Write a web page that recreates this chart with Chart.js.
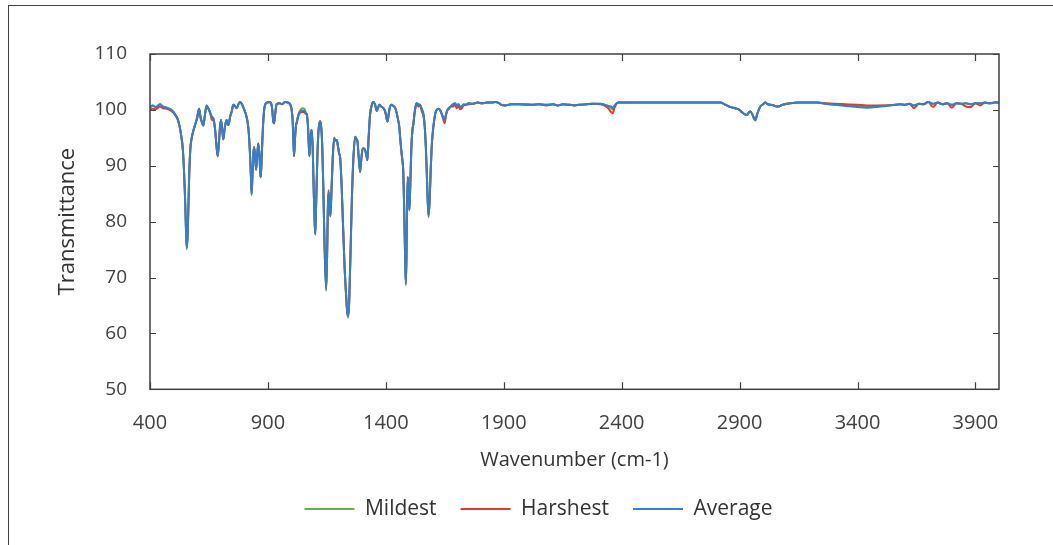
<!DOCTYPE html>
<html>
<head>
<meta charset="utf-8">
<script src="https://cdn.jsdelivr.net/npm/chart.js@4.4.1/dist/chart.umd.min.js"></script>
<style>
  body { margin: 0; background: #fff; }
  #frame { position: absolute; left: 8px; top: 5px; width: 1100px; height: 600px;
           border-top: 1px solid #404040; border-left: 1px solid #404040; }
  #chart { position: absolute; left: 0; top: 0; }
</style>
</head>
<body>
<div id="frame"></div>
<canvas id="chart" width="1053" height="545"></canvas>
<script>
// wavenumber (cm-1), shared by all three spectra
const wavenumbers = [
  400,410,425,442,455,471,490,505,519,530,
  540,548,553,556,560,566,571,577,584,591,
  600,608,615,621,626,632,640,648,655,662,
  670,676,682,687,692,697,701,706,711,716,
  721,725,729,732,740,747,753,760,768,775,
  782,790,800,808,817,823,828,831,835,839,
  842,846,850,854,859,864,868,870,874,879,
  884,888,895,909,917,923,926,930,937,950,
  960,973,985,994,1000,1005,1008,1011,1015,1019,
  1022,1028,1035,1046,1055,1060,1065,1070,1073,1076,
  1080,1083,1086,1090,1094,1098,1101,1105,1110,1115,
  1121,1125,1130,1135,1140,1147,1151,1154,1157,1161,
  1165,1170,1175,1181,1186,1192,1197,1202,1206,1212,
  1218,1225,1232,1236,1240,1244,1250,1256,1262,1270,
  1275,1280,1285,1291,1296,1302,1307,1312,1317,1322,
  1327,1333,1340,1347,1354,1362,1368,1373,1380,1390,
  1398,1403,1407,1413,1418,1425,1432,1439,1446,1452,
  1456,1460,1465,1470,1474,1478,1482,1485,1488,1490,
  1493,1496,1500,1504,1508,1513,1517,1522,1527,1531,
  1538,1545,1552,1560,1565,1570,1575,1581,1586,1590,
  1594,1598,1604,1610,1616,1623,1630,1640,1645,1649,
  1655,1660,1666,1675,1685,1694,1700,1708,1715,1722,
  1730,1740,1750,1770,1790,1807,1830,1850,1864,1880,
  1890,1906,1930,1960,1991,2020,2050,2080,2110,2130,
  2150,2180,2200,2220,2250,2280,2310,2330,2345,2355,
  2362,2370,2385,2420,2500,2600,2700,2800,2818,2840,
  2861,2880,2896,2910,2922,2932,2940,2946,2955,2962,
  2967,2975,2988,3000,3009,3020,3038,3050,3066,3080,
  3100,3115,3150,3200,3229,3260,3300,3350,3400,3441,
  3480,3520,3560,3582,3600,3620,3640,3660,3680,3700,
  3720,3740,3760,3780,3800,3820,3840,3860,3880,3900,
  3920,3940,3960,3980,4000
];

const mildest = [
  100.5,100.8,100.5,101.0,100.6,100.4,100.0,99.3,98.2,96.0,
  92.5,85.0,78.0,75.0,78.0,88.0,93.0,95.0,96.3,97.3,
  98.6,100.2,98.5,97.8,97.2,98.8,100.8,100.2,99.5,98.8,
  98.3,96.5,93.5,91.7,94.0,97.0,98.2,96.5,94.7,96.5,
  97.7,98.2,97.6,97.3,98.8,99.8,100.9,100.7,100.3,101.0,
  101.4,101.0,100.0,99.0,96.8,93.0,88.0,84.7,89.0,92.5,
  93.2,91.5,89.3,91.5,94.0,92.0,88.5,87.9,92.0,97.0,
  100.0,100.9,101.3,101.4,100.5,97.9,97.6,99.0,101.0,101.2,
  101.0,101.4,101.3,101.0,100.2,98.0,94.5,91.7,95.0,97.2,
  97.7,99.0,99.8,100.3,100.2,99.6,99.2,97.0,94.0,91.7,
  94.5,96.0,96.4,93.0,86.0,80.0,77.6,84.0,92.0,96.5,
  97.9,97.3,94.0,86.0,76.0,67.6,74.0,82.0,85.3,83.0,
  80.9,86.0,91.5,94.9,94.5,94.6,93.5,92.2,91.6,87.0,
  80.0,72.0,66.5,64.0,62.8,65.0,74.0,84.0,91.0,95.2,
  94.8,94.3,91.5,88.9,91.2,93.1,93.1,92.8,92.0,91.0,
  95.0,99.1,100.8,101.4,101.0,99.8,100.5,100.9,100.6,100.3,
  99.6,98.5,97.9,99.5,100.6,100.9,100.7,100.4,99.5,98.2,
  97.3,95.5,93.0,91.0,89.0,82.0,73.0,68.6,75.0,82.0,
  88.0,85.0,82.0,87.0,93.0,96.5,97.5,99.5,100.8,101.2,
  101.0,100.9,100.2,99.1,97.0,93.0,87.0,80.8,84.0,89.0,
  93.0,95.5,97.8,99.4,100.0,100.2,100.0,99.0,98.5,98.2,
  99.2,99.9,100.3,100.6,101.0,101.2,100.8,101.0,100.5,100.6,
  101.0,100.9,101.2,101.1,101.3,101.2,101.3,101.3,101.4,101.2,
  100.9,100.8,101.0,101.0,101.0,100.9,101.0,100.9,101.0,100.8,
  101.0,100.9,100.8,100.9,101.0,101.1,101.1,100.9,100.6,100.3,
  100.1,100.7,101.3,101.3,101.3,101.3,101.3,101.3,101.3,100.9,
  100.5,100.3,100.1,99.6,99.2,99.1,99.6,99.7,99.1,98.4,
  98.1,99.3,100.6,101.0,101.3,101.0,100.9,100.7,100.6,100.9,
  101.1,101.2,101.3,101.3,101.3,101.2,101.0,100.9,100.7,100.6,
  100.7,100.8,100.9,101.0,100.9,101.1,100.8,101.1,101.0,101.4,
  101.1,101.3,101.0,101.2,100.9,101.2,101.1,101.2,101.0,101.2,
  101.2,101.3,101.2,101.3,101.3
];

const harshest = [
  100.0,100.2,100.1,100.6,100.3,100.2,99.8,99.2,98.1,96.0,
  92.5,85.0,78.0,75.4,78.0,88.0,93.0,95.0,96.3,97.3,
  98.6,100.2,98.5,97.6,97.2,98.8,100.8,100.2,99.5,98.3,
  98.0,96.5,93.5,91.8,94.0,97.0,98.2,96.5,94.8,96.5,
  97.7,98.2,97.6,97.3,98.8,99.8,100.9,100.7,100.3,101.0,
  101.4,101.0,100.0,99.0,96.8,93.0,88.0,85.1,89.0,92.5,
  93.4,91.5,89.3,91.5,94.0,92.0,88.5,88.0,92.0,97.0,
  100.0,100.9,101.3,101.4,100.5,97.9,97.6,99.0,101.0,101.2,
  101.0,101.4,101.3,101.0,100.2,98.0,94.5,91.8,95.0,97.2,
  97.8,98.8,99.4,99.6,99.6,99.3,99.2,97.0,94.0,91.8,
  94.5,96.0,96.4,93.0,86.0,80.0,77.9,84.0,92.0,96.5,
  98.0,97.3,94.0,86.0,76.0,68.0,74.0,82.0,85.6,83.0,
  81.1,86.0,91.5,95.0,94.5,94.6,93.5,92.2,91.6,87.0,
  80.0,72.0,66.5,64.0,63.2,65.0,74.0,84.0,91.0,95.2,
  94.8,94.3,91.5,88.9,91.2,93.1,93.1,92.8,92.0,91.0,
  95.0,99.1,100.8,101.4,101.0,99.8,100.5,100.9,100.6,100.3,
  99.6,98.5,97.9,99.5,100.6,100.9,100.7,100.4,99.5,98.2,
  97.3,95.5,93.0,91.0,89.0,82.0,73.0,69.0,75.0,82.0,
  88.0,85.0,82.2,87.0,93.0,96.5,97.5,99.5,100.8,101.2,
  100.6,100.9,99.8,98.8,97.0,93.0,87.0,81.1,84.0,89.0,
  93.0,95.5,97.8,99.4,100.0,100.2,100.0,98.8,98.1,97.6,
  98.9,99.8,100.1,100.6,100.6,100.9,100.3,100.7,100.1,100.3,
  100.8,100.9,101.0,101.1,101.3,101.2,101.3,101.3,101.4,101.2,
  100.9,100.8,101.0,101.0,100.9,100.9,101.0,100.8,101.0,100.8,
  101.0,100.9,100.8,100.9,101.0,101.1,101.0,100.7,100.2,99.6,
  99.4,100.4,101.3,101.3,101.3,101.3,101.3,101.3,101.3,100.9,
  100.5,100.3,100.1,99.6,99.2,99.1,99.6,99.7,99.1,98.4,
  98.2,99.3,100.6,101.0,101.3,101.0,100.9,100.7,100.6,100.9,
  101.1,101.2,101.3,101.3,101.3,101.2,101.1,101.0,100.9,100.8,
  100.8,100.8,100.9,101.0,100.9,101.1,100.3,101.1,101.0,101.4,
  100.5,101.3,101.0,101.2,100.4,101.2,101.1,100.6,100.5,101.2,
  100.8,101.3,101.2,101.3,101.3
];

const average = [
  100.3,100.8,100.5,101.0,100.6,100.4,100.0,99.3,98.2,96.0,
  92.5,85.0,78.0,75.3,78.0,88.0,93.0,95.0,96.3,97.3,
  98.6,100.2,98.5,97.8,97.2,98.8,100.8,100.2,99.5,98.8,
  98.3,96.5,93.5,91.7,94.0,97.0,98.2,96.5,94.7,96.5,
  97.7,98.2,97.6,97.3,98.8,99.8,100.9,100.7,100.3,101.0,
  101.4,101.0,100.0,99.0,96.8,93.0,88.0,85.0,89.0,92.5,
  93.2,91.5,89.3,91.5,94.0,92.0,88.5,88.0,92.0,97.0,
  100.0,100.9,101.3,101.4,100.5,97.9,97.6,99.0,101.0,101.2,
  101.0,101.4,101.3,101.0,100.2,98.0,94.5,91.7,95.0,97.2,
  97.6,98.8,99.6,99.9,99.8,99.4,99.1,97.0,94.0,91.7,
  94.5,96.0,96.4,93.0,86.0,80.0,77.8,84.0,92.0,96.5,
  97.9,97.3,94.0,86.0,76.0,67.9,74.0,82.0,85.3,83.0,
  81.0,86.0,91.5,94.9,94.5,94.6,93.5,92.2,91.6,87.0,
  80.0,72.0,66.5,64.0,63.1,65.0,74.0,84.0,91.0,95.2,
  94.8,94.3,91.5,88.9,91.2,93.1,93.1,92.8,92.0,91.0,
  95.0,99.1,100.8,101.4,101.0,99.8,100.5,100.9,100.6,100.3,
  99.6,98.5,97.9,99.5,100.6,100.9,100.7,100.4,99.5,98.2,
  97.3,95.5,93.0,91.0,89.0,82.0,73.0,68.9,75.0,82.0,
  88.0,85.0,82.1,87.0,93.0,96.5,97.5,99.5,100.8,101.2,
  101.0,100.9,100.2,99.1,97.0,93.0,87.0,81.0,84.0,89.0,
  93.0,95.5,97.8,99.4,100.0,100.2,100.0,99.0,98.5,98.2,
  99.2,99.9,100.3,100.6,101.0,101.2,100.8,101.0,100.5,100.6,
  101.0,100.9,101.2,101.1,101.3,101.2,101.3,101.3,101.4,101.2,
  100.9,100.8,101.0,101.0,101.0,100.9,101.0,100.9,101.0,100.8,
  101.0,100.9,100.8,100.9,101.0,101.1,101.1,100.9,100.7,100.6,
  100.4,100.8,101.3,101.3,101.3,101.3,101.3,101.3,101.3,100.9,
  100.5,100.3,100.1,99.6,99.2,99.1,99.6,99.7,99.1,98.4,
  98.2,99.3,100.6,101.0,101.3,101.0,100.9,100.7,100.6,100.9,
  101.1,101.2,101.3,101.3,101.3,101.1,100.9,100.7,100.5,100.4,
  100.5,100.7,100.9,101.0,100.9,101.1,100.8,101.1,101.0,101.4,
  101.1,101.3,101.0,101.2,100.9,101.2,101.1,101.2,101.0,101.2,
  101.2,101.3,101.2,101.3,101.3
];

const xTicks = [400, 900, 1400, 1900, 2400, 2900, 3400, 3900];
const yTicks = [50, 60, 70, 80, 90, 100, 110];

const toPoints = (ys) => wavenumbers.map((x, i) => ({ x: x, y: ys[i] }));

// plot frame + inward tick marks, like the original
const frameTicks = {
  id: 'frameTicks',
  afterLayout(chart) {
    // legend in the original sits a bit right of the plot centre
    chart.legend.left += 78;
  },
  afterDatasetsDraw(chart) {
    const { ctx, chartArea: a, scales: { x, y } } = chart;
    ctx.save();
    ctx.strokeStyle = '#404040';
    ctx.lineWidth = 1.5;
    ctx.strokeRect(a.left, a.top, a.right - a.left, a.bottom - a.top);
    ctx.lineWidth = 1.2;
    ctx.beginPath();
    xTicks.forEach(v => {
      const px = Math.round(x.getPixelForValue(v)) + 0.5;
      ctx.moveTo(px, a.bottom); ctx.lineTo(px, a.bottom - 7);
      ctx.moveTo(px, a.top); ctx.lineTo(px, a.top + 7);
    });
    yTicks.forEach(v => {
      const py = Math.round(y.getPixelForValue(v)) + 0.5;
      ctx.moveTo(a.left, py); ctx.lineTo(a.left + 6, py);
      ctx.moveTo(a.right, py); ctx.lineTo(a.right - 6, py);
    });
    ctx.stroke();
    ctx.restore();
  }
};

new Chart(document.getElementById('chart'), {
  type: 'line',
  data: {
    datasets: [
      { label: 'Mildest', data: toPoints(mildest), borderColor: '#70AD47', backgroundColor: '#70AD47', order: 3 },
      { label: 'Harshest', data: toPoints(harshest), borderColor: '#E03A33', backgroundColor: '#E03A33', order: 2 },
      { label: 'Average', data: toPoints(average), borderColor: '#2F80CE', backgroundColor: '#2F80CE', order: 1 }
    ]
  },
  options: {
    responsive: false,
    animation: false,
    devicePixelRatio: 1,
    elements: {
      point: { radius: 0 },
      line: { borderWidth: 2, cubicInterpolationMode: 'monotone' }
    },
    layout: { padding: { left: 0, top: 54, right: 54, bottom: 15.5 } },
    scales: {
      x: {
        type: 'linear',
        min: 400,
        max: 4000,
        afterBuildTicks: s => { s.ticks = xTicks.map(v => ({ value: v })); },
        afterFit: s => { s.height = 85.2; },
        grid: { display: false, drawTicks: false },
        border: { display: false },
        ticks: { font: { family: 'Open Sans', size: 20 }, color: '#404040', padding: 22, maxRotation: 0,
                 callback: v => String(v) },
        title: { display: true, text: 'Wavenumber (cm-1)', color: '#333',
                 font: { family: 'Open Sans', size: 20 }, padding: { top: 0, bottom: 2.5 } }
      },
      y: {
        min: 50,
        max: 110,
        afterBuildTicks: s => { s.ticks = yTicks.map(v => ({ value: v })); },
        afterFit: s => { s.width = 150; },
        grid: { display: false, drawTicks: false },
        border: { display: false },
        ticks: { font: { family: 'Open Sans', size: 19 }, color: '#404040', padding: 23,
                 callback: v => String(v) },
        title: { display: true, text: 'Transmittance', color: '#333',
                 font: { family: 'Open Sans', size: 22 }, padding: { top: 55, bottom: 0 } }
      }
    },
    plugins: {
      tooltip: { enabled: false },
      legend: {
        position: 'bottom',
        labels: {
          boxWidth: 50,
          boxHeight: 2,
          padding: 24,
          color: '#333',
          font: { family: 'Open Sans', size: 21 },
          generateLabels: c => Chart.defaults.plugins.legend.labels.generateLabels(c)
            .map(l => Object.assign(l, { lineWidth: 0 })),
          sort: (a, b) => a.datasetIndex - b.datasetIndex
        }
      }
    }
  },
  plugins: [frameTicks]
});
</script>
</body>
</html>
